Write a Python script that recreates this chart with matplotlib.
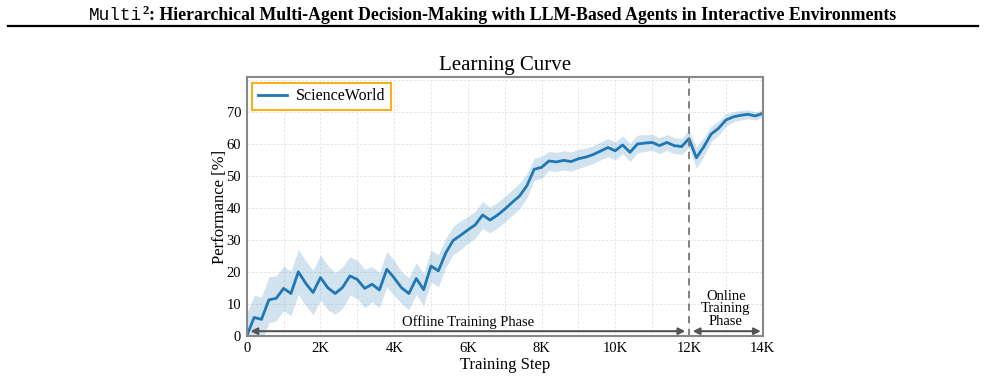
import matplotlib
matplotlib.use("Agg")
import matplotlib.pyplot as plt
from matplotlib.ticker import MultipleLocator, FixedLocator
import numpy as np

# ---------------- data ----------------
steps = [0, 200, 400, 600, 800, 1000, 1200, 1400, 1600, 1800,
         2000, 2200, 2400, 2600, 2800, 3000, 3200, 3400, 3600, 3800,
         4000, 4200, 4400, 4600, 4800, 5000, 5200, 5400, 5600, 5800,
         6000, 6200, 6400, 6600, 6800, 7000, 7200, 7400, 7600, 7800,
         8000, 8200, 8400, 8600, 8800, 9000, 9200, 9400, 9600, 9800,
         10000, 10200, 10400, 10600, 10800, 11000, 11200, 11400, 11600, 11800,
         12000, 12200, 12400, 12600, 12800, 13000, 13200, 13400, 13600, 13800,
         14000]
performance = [0.0, 5.8, 5.2, 11.3, 11.8, 14.9, 13.3, 20.1, 16.5, 13.6,
               18.3, 15.1, 13.3, 15.2, 18.8, 17.7, 14.9, 16.2, 14.4, 20.9,
               18.2, 15.1, 13.3, 18.0, 14.5, 21.9, 20.4, 26.0, 29.9, 31.5,
               33.2, 34.8, 37.9, 36.3, 37.8, 39.7, 41.8, 43.8, 47.0, 52.2,
               52.8, 54.8, 54.5, 55.0, 54.6, 55.5, 56.0, 56.8, 57.9, 59.0,
               58.0, 59.8, 57.5, 60.1, 60.4, 60.6, 59.6, 60.6, 59.6, 59.3,
               61.8, 55.8, 59.2, 63.2, 65.0, 67.6, 68.6, 69.1, 69.4, 68.9,
               69.7]
spread = [7.0, 7.0, 7.0, 7.2, 7.0, 7.0, 7.0, 7.0, 7.0, 7.0,
          7.0, 7.0, 6.5, 6.5, 6.0, 6.0, 6.0, 5.5, 5.5, 5.5,
          5.5, 5.0, 5.0, 5.0, 5.0, 5.0, 5.0, 4.5, 4.5, 4.5,
          4.2, 4.2, 4.2, 4.0, 4.0, 4.0, 4.0, 4.0, 3.8, 3.5,
          3.4, 3.0, 3.0, 3.0, 3.0, 3.0, 2.8, 2.8, 2.8, 2.8,
          2.8, 2.8, 2.8, 2.8, 2.6, 2.5, 2.5, 2.5, 2.5, 2.5,
          2.8, 3.3, 3.0, 2.5, 2.2, 2.0, 1.6, 1.5, 1.4, 1.3,
          1.2]
series_name = "ScienceWorld"
xtick_vals = [0, 2000, 4000, 6000, 8000, 10000, 12000, 14000]
xtick_labels = ["0", "2K", "4K", "6K", "8K", "10K", "12K", "14K"]
ytick_vals = [0, 10, 20, 30, 40, 50, 60, 70]
phase_switch = 12000

SERIF = ["Liberation Serif", "DejaVu Serif"]
plt.rcParams["font.family"] = SERIF
plt.rcParams["mathtext.fontset"] = "stix"

fig = plt.figure(figsize=(9.85, 3.77), dpi=100)
ax = fig.add_axes([0.2505, 0.1088, 0.5238, 0.6862])

x = np.array(steps)
y = np.array(performance)
s = np.array(spread)
color = "#1f77b4"
ax.fill_between(x, y - s, y + s, color=color, alpha=0.2, linewidth=0)
ax.plot(x, y, color=color, lw=2, label=series_name)

ax.axvline(phase_switch, color="#777777", ls=(0, (4, 3)), lw=1.3)

ax.set_xlim(0, 14000)
ax.set_ylim(0, 81)
ax.set_xticks(xtick_vals)
ax.set_xticklabels(xtick_labels)
ax.set_yticks(ytick_vals)
ax.xaxis.set_minor_locator(MultipleLocator(1000))
ax.yaxis.set_minor_locator(FixedLocator([80]))
ax.grid(True, which="both", color="#e2e2e2", ls=(0, (3, 2)), lw=0.6)
ax.set_axisbelow(True)
ax.tick_params(which="both", length=0, labelsize=10.5, pad=4, colors="black")
for sp in ax.spines.values():
    sp.set_color("#888888")
    sp.set_linewidth(1.5)

ax.set_xlabel("Training Step", fontsize=12, labelpad=2)
ax.set_ylabel("Performance [%]", fontsize=12, labelpad=-1)
ax.set_title("Learning Curve", fontsize=15, pad=5)

leg = ax.legend(loc="upper left", fontsize=11.5, fancybox=False, framealpha=1,
                edgecolor="#f5b01a", handlelength=1.8, handletextpad=0.6,
                borderpad=0.35, bbox_to_anchor=(0.0, 1.0), borderaxespad=0.35)
leg.get_frame().set_linewidth(1.5)

arrow_kw = dict(arrowstyle="<|-|>", color="#555555", lw=1.5,
                mutation_scale=10, shrinkA=0, shrinkB=0)
ax.annotate("", xy=(100, 1.5), xytext=(11900, 1.5), arrowprops=arrow_kw)
ax.annotate("", xy=(12100, 1.5), xytext=(13950, 1.5), arrowprops=arrow_kw)
ax.text(6000, 4.3, "Offline Training Phase", ha="center", va="center", fontsize=10.5)
ax.text(13000, 8.5, "Online\nTraining\nPhase", ha="center", va="center",
        fontsize=10.5, linespacing=0.95)

# ---------------- header ----------------
fig.canvas.draw()
r = fig.canvas.get_renderer()
hy = 0.96
fs = 12.8
t1 = fig.text(0, hy, "Multi", fontsize=fs, family=["Liberation Mono", "DejaVu Sans Mono"],
              va="center", ha="left")
t2 = fig.text(0, hy + 0.012, "2", fontsize=fs * 0.72, family=SERIF, weight="bold",
              va="center", ha="left")
t3 = fig.text(0, hy, ": Hierarchical Multi-Agent Decision-Making with LLM-Based Agents in Interactive Environments",
              fontsize=fs, family=SERIF, weight="bold", va="center", ha="left")
W = fig.bbox.width
w1 = t1.get_window_extent(r).width / W
w2 = t2.get_window_extent(r).width / W
w3 = t3.get_window_extent(r).width / W
total = w1 + w2 + w3
x0 = 0.5 - total / 2
t1.set_x(x0)
t2.set_x(x0 + w1)
t3.set_x(x0 + w1 + w2)
fig.add_artist(plt.Line2D([0.008, 0.993], [0.931, 0.931], color="black", lw=1.6,
                          transform=fig.transFigure))

fig.savefig("out.png", dpi=100)
